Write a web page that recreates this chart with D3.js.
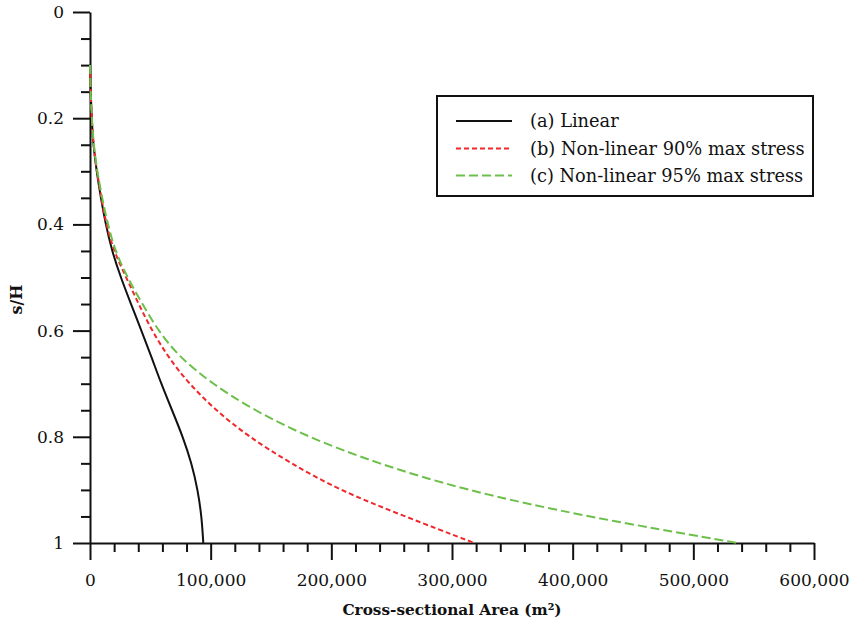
<!DOCTYPE html>
<html>
<head>
<meta charset="utf-8">
<script src="https://cdn.jsdelivr.net/npm/d3@7"></script>
<style>
  html, body { margin: 0; padding: 0; background: #fff; }
  svg { display: block; }
  text { font-family: "DejaVu Serif", serif; fill: #111; }
</style>
</head>
<body>
<svg id="chart" width="851" height="628"></svg>
<script>
// ---- data ----
const sValues = [0.1, 0.15, 0.2, 0.25, 0.3, 0.35, 0.4, 0.45, 0.5, 0.55, 0.6, 0.65, 0.7, 0.75, 0.8, 0.85, 0.9, 0.95, 1.0];
const linearArea = [0, 500, 1400, 2700, 5500, 9000, 13000, 18200, 25500, 34000, 42600, 51000, 59000, 68000, 77000, 84200, 89300, 92500, 93900];
const nonlinear90Area = [0, 500, 1400, 2800, 5700, 9300, 13500, 19600, 30000, 40300, 51300, 64800, 82000, 104100, 131500, 166500, 206000, 261000, 318500];
const nonlinear95Area = [0, 500, 1500, 3000, 6000, 10000, 14800, 20800, 31000, 43400, 56500, 74000, 101200, 135900, 180000, 238000, 310000, 410000, 537000];
const seriesNames = ["(a) Linear", "(b) Non-linear 90% max stress", "(c) Non-linear 95% max stress"];
const xTickValues = [0, 100000, 200000, 300000, 400000, 500000, 600000];
const yTickValues = [0, 0.2, 0.4, 0.6, 0.8, 1];
const xLabel = "Cross-sectional Area (m\u00B2)";
const yLabel = "s/H";

// ---- layout ----
const svg = d3.select("#chart");
const mLeft = 90, mTop = 12, plotW = 724, plotH = 531;
const x = d3.scaleLinear().domain([0, 600000]).range([mLeft, mLeft + plotW]);
const y = d3.scaleLinear().domain([0, 1]).range([mTop, mTop + plotH]);

const styles = [
  { color: "#111111", dash: null, width: 2 },
  { color: "#f0282c", dash: "5,3", width: 2 },
  { color: "#6cc04a", dash: "9,4", width: 2 }
];
const allSeries = [linearArea, nonlinear90Area, nonlinear95Area];

// ---- minor ticks ----
const xMinor = d3.range(0, 600001, 20000).filter(v => v % 100000 !== 0);
const yMinor = d3.range(0, 21).map(i => i * 0.05).filter(v => Math.abs(v * 5 - Math.round(v * 5)) > 1e-6);

svg.append("g").attr("transform", `translate(0,${mTop + plotH})`)
  .call(d3.axisBottom(x).tickValues(xMinor).tickSize(9).tickFormat(""))
  .call(g => g.select(".domain").remove())
  .call(g => g.selectAll("line").attr("stroke", "#111").attr("stroke-width", 2));

svg.append("g").attr("transform", `translate(${mLeft},0)`)
  .call(d3.axisLeft(y).tickValues(yMinor).tickSize(9).tickFormat(""))
  .call(g => g.select(".domain").remove())
  .call(g => g.selectAll("line").attr("stroke", "#111").attr("stroke-width", 2));

// ---- major axes ----
const fmt = d3.format(",");
svg.append("g").attr("transform", `translate(0,${mTop + plotH})`)
  .call(d3.axisBottom(x).tickValues(xTickValues).tickSize(17).tickSizeOuter(0).tickPadding(14).tickFormat(fmt))
  .call(g => g.select(".domain").attr("stroke", "#111").attr("stroke-width", 2))
  .call(g => g.selectAll("line").attr("stroke", "#111").attr("stroke-width", 2))
  .call(g => g.selectAll("text").attr("font-size", 17).attr("font-family", "DejaVu Serif").attr("fill", "#1a1a1a"));

svg.append("g").attr("transform", `translate(${mLeft},0)`)
  .call(d3.axisLeft(y).tickValues(yTickValues).tickSize(17).tickSizeOuter(0).tickPadding(9).tickFormat(d => d3.format("")(d)))
  .call(g => g.select(".domain").attr("stroke", "#111").attr("stroke-width", 2))
  .call(g => g.selectAll("line").attr("stroke", "#111").attr("stroke-width", 2))
  .call(g => g.selectAll("text").attr("font-size", 17).attr("font-family", "DejaVu Serif").attr("fill", "#1a1a1a"));

// ---- lines ----
const lineGen = d3.line()
  .x(d => x(d[0]))
  .y(d => y(d[1]))
  .curve(d3.curveBasis);

allSeries.forEach((vals, i) => {
  const pts = vals.map((v, j) => [v, sValues[j]]);
  svg.append("path")
    .datum(pts)
    .attr("fill", "none")
    .attr("stroke", styles[i].color)
    .attr("stroke-width", styles[i].width)
    .attr("stroke-dasharray", styles[i].dash)
    .attr("d", lineGen);
});

// ---- axis titles ----
svg.append("text")
  .attr("x", 452)
  .attr("y", 615)
  .attr("text-anchor", "middle")
  .attr("font-size", 15.3)
  .attr("font-weight", "bold")
  .text(xLabel);

svg.append("text")
  .attr("transform", `translate(22,${mTop + plotH / 2 + 22}) rotate(-90)`)
  .attr("text-anchor", "middle")
  .attr("font-size", 16)
  .attr("font-weight", "bold")
  .text(yLabel);

// ---- legend ----
const legend = svg.append("g");
legend.append("rect")
  .attr("x", 437).attr("y", 96).attr("width", 376).attr("height", 100)
  .attr("fill", "#fff").attr("stroke", "#111").attr("stroke-width", 2);
const legendY = [121, 148.5, 175.5];
seriesNames.forEach((name, i) => {
  legend.append("line")
    .attr("x1", 456).attr("x2", 512)
    .attr("y1", legendY[i]).attr("y2", legendY[i])
    .attr("stroke", styles[i].color)
    .attr("stroke-width", styles[i].width)
    .attr("stroke-dasharray", styles[i].dash);
  legend.append("text")
    .attr("x", 530).attr("y", legendY[i])
    .attr("dy", "0.35em")
    .attr("font-size", 17.8)
    .text(name);
});
</script>
</body>
</html>
